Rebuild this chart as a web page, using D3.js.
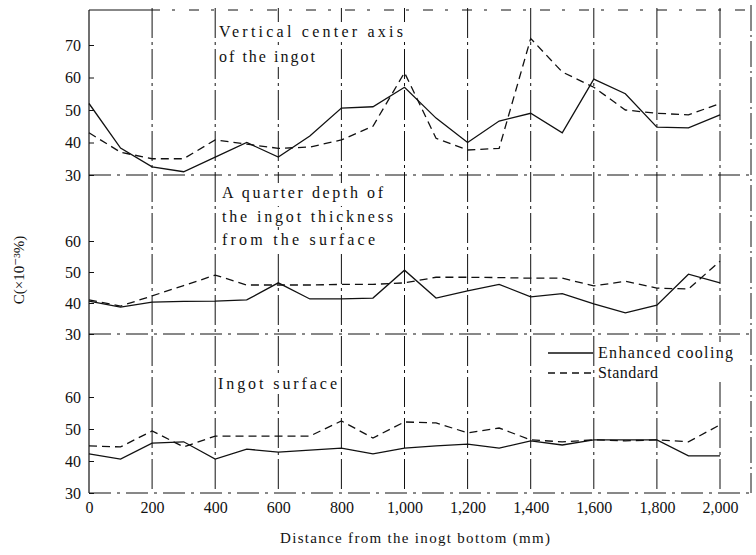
<!DOCTYPE html>
<html>
<head>
<meta charset="utf-8">
<script src="https://cdn.jsdelivr.net/npm/d3@7"></script>
<style>
  html, body { margin: 0; padding: 0; background: #fff; }
  svg { display: block; font-family: "Liberation Serif", "DejaVu Serif", serif; }
</style>
</head>
<body>
<svg id="chart" width="756" height="555"></svg>
<script>
// Distance from the ingot bottom (mm)
const distance = [0, 100, 200, 300, 400, 500, 600, 700, 800, 900, 1000,
                  1100, 1200, 1300, 1400, 1500, 1600, 1700, 1800, 1900, 2000];

// Vertical center axis of the ingot
const centerEnhanced = [52, 38.3, 32.5, 31, 35.5, 40, 35.5, 42, 50.6, 51, 57,
                        47.5, 40, 46.6, 49, 43, 59.5, 55, 44.7, 44.5, 48.5];
const centerStandard = [43, 37, 35, 35, 40.8, 39.5, 38.2, 38.6, 40.8, 45, 61.5,
                        41.3, 37.7, 38.2, 72, 61.7, 57, 50, 49, 48.5, 52];

// A quarter depth of the ingot thickness from the surface
const quarterEnhanced = [40.6, 38.7, 40.3, 40.5, 40.6, 41, 46.5, 41.3, 41.3, 41.6, 50.6,
                         41.6, 43.9, 46, 42, 43, 39.7, 36.8, 39.3, 49.3, 46.5];
const quarterStandard = [41, 39, 42.3, 45.6, 49, 45.8, 45.8, 45.8, 46, 46, 46.5,
                         48.3, 48.3, 48.2, 48, 48, 45.5, 47, 44.8, 44.5, 53.5];

// Ingot surface
const surfaceEnhanced = [42.2, 40.6, 45.6, 46, 40.6, 43.7, 42.8, 43.4, 44, 42.2, 44,
                         44.7, 45.3, 44, 46.3, 45, 46.6, 46.6, 46.6, 41.6, 41.6];
const surfaceStandard = [44.7, 44.4, 49.4, 44.4, 47.8, 47.8, 47.8, 47.8, 52.5, 47.2, 52.2,
                         51.9, 48.8, 50.3, 46.6, 46, 46.6, 46.3, 46.6, 46, 51.3];

const xTicks = [0, 200, 400, 600, 800, 1000, 1200, 1400, 1600, 1800, 2000];
const topTicks = [30, 40, 50, 60, 70];
const lowTicks = [30, 40, 50, 60];

const svg = d3.select("#chart");
const ink = "#111";
const xLeft = 89, xRight = 751, yTop = 8, yBottom = 493;

const x = d3.scaleLinear().domain([0, 2000]).range([xLeft, 720]);

const panels = [
  { y: d3.scaleLinear().domain([30, 70]).range([175, 45]), ticks: topTicks,
    enhanced: centerEnhanced, standard: centerStandard },
  { y: d3.scaleLinear().domain([30, 60]).range([334, 241]), ticks: lowTicks,
    enhanced: quarterEnhanced, standard: quarterStandard },
  { y: d3.scaleLinear().domain([30, 60]).range([493, 397]), ticks: lowTicks,
    enhanced: surfaceEnhanced, standard: surfaceStandard }
];

// Frame: top and right edges, dash-dot style
const frame = svg.append("g").attr("stroke", ink).attr("fill", "none").attr("stroke-width", 1);
frame.append("line").attr("x1", xLeft).attr("x2", 150).attr("y1", 10).attr("y2", 10);
frame.append("line").attr("x1", 150).attr("x2", xRight).attr("y1", 10).attr("y2", 10)
  .attr("stroke-dasharray", "10,12,3,14");
frame.append("line").attr("x1", xRight).attr("x2", xRight).attr("y1", 5).attr("y2", yBottom)
  .attr("stroke-dasharray", "26,4,2,4");

// Vertical grid lines at every 200 mm
const grid = svg.append("g").attr("stroke", ink).attr("stroke-width", 1).attr("fill", "none");
xTicks.slice(1).forEach(t => {
  grid.append("line")
    .attr("x1", x(t)).attr("x2", x(t))
    .attr("y1", yTop).attr("y2", yBottom)
    .attr("stroke-dasharray", "30,4,3,4");
});

// Horizontal base lines of each panel (30 level)
panels.forEach(p => {
  grid.append("line")
    .attr("x1", xLeft).attr("x2", xRight)
    .attr("y1", p.y(30)).attr("y2", p.y(30))
    .attr("stroke-dasharray", "22,6,3,6");
});

// Text labels with a white backing that hides the grid behind them
function label(lines, x0, baselines, widths, size) {
  const g = svg.append("g");
  lines.forEach((s, i) => {
    g.append("rect")
      .attr("x", x0 - 2).attr("y", baselines[i] - size + 1)
      .attr("width", widths[i] + 4).attr("height", size + 4)
      .attr("fill", "#fff");
  });
  lines.forEach((s, i) => {
    g.append("text")
      .attr("x", x0).attr("y", baselines[i])
      .attr("font-size", size).attr("fill", ink)
      .attr("textLength", widths[i]).attr("lengthAdjust", "spacing")
      .text(s);
  });
}

label(["Vertical center axis", "of the ingot"], 219, [37, 62], [184, 96], 16);
label(["A quarter depth of", "the ingot thickness", "from the surface"], 222,
      [198, 222, 245], [161, 171, 153], 16);
label(["Ingot surface"], 218, [389], [119], 16);

// Left axis line
svg.append("line").attr("x1", xLeft).attr("x2", xLeft)
  .attr("y1", yTop + 2).attr("y2", yBottom)
  .attr("stroke", ink).attr("stroke-width", 1.2);

// Y axes for each panel
panels.forEach(p => {
  const ax = svg.append("g")
    .attr("transform", `translate(${xLeft},0)`)
    .call(d3.axisLeft(p.y).tickValues(p.ticks).tickSize(-5).tickPadding(8).tickFormat(d3.format("d")));
  ax.select(".domain").remove();
  ax.selectAll(".tick line").attr("stroke", ink);
  ax.selectAll("text").attr("font-size", 16).attr("fill", ink)
    .attr("font-family", "Liberation Serif, serif");
});

// X axis labels
const xa = svg.append("g")
  .attr("transform", `translate(0,${yBottom})`)
  .call(d3.axisBottom(x).tickValues(xTicks).tickSize(0).tickPadding(9)
        .tickFormat(d3.format(",")));
xa.select(".domain").remove();
xa.selectAll("text").attr("font-size", 16).attr("fill", ink)
  .attr("font-family", "Liberation Serif, serif");

// Series lines
const line = yScale => d3.line().x((d, i) => x(distance[i])).y(d => yScale(d));
panels.forEach(p => {
  svg.append("path").datum(p.standard)
    .attr("d", line(p.y)).attr("fill", "none")
    .attr("stroke", ink).attr("stroke-width", 1.3)
    .attr("stroke-dasharray", "8,5");
  svg.append("path").datum(p.enhanced)
    .attr("d", line(p.y)).attr("fill", "none")
    .attr("stroke", ink).attr("stroke-width", 1.3);
});

// Legend
const legend = svg.append("g");
legend.append("rect").attr("x", 596).attr("y", 342).attr("width", 141).attr("height", 40).attr("fill", "#fff");
legend.append("line").attr("x1", 548).attr("x2", 593).attr("y1", 353).attr("y2", 353)
  .attr("stroke", ink).attr("stroke-width", 1.3);
legend.append("line").attr("x1", 548).attr("x2", 593).attr("y1", 373).attr("y2", 373)
  .attr("stroke", ink).attr("stroke-width", 1.3).attr("stroke-dasharray", "7,5");
legend.append("text").attr("x", 598).attr("y", 358).attr("font-size", 16).attr("fill", ink)
  .attr("textLength", 135).attr("lengthAdjust", "spacing").text("Enhanced cooling");
legend.append("text").attr("x", 598).attr("y", 378).attr("font-size", 16).attr("fill", ink)
  .attr("textLength", 60).attr("lengthAdjust", "spacing").text("Standard");

// Axis titles
svg.append("text").attr("x", 280).attr("y", 543).attr("font-size", 15).attr("fill", ink)
  .attr("textLength", 270).attr("lengthAdjust", "spacing")
  .text("Distance from the inogt bottom (mm)");
svg.append("text")
  .attr("transform", "translate(24,270) rotate(-90)")
  .attr("text-anchor", "middle").attr("font-size", 15).attr("fill", ink)
  .text("C(×10⁻³%)");
</script>
</body>
</html>
